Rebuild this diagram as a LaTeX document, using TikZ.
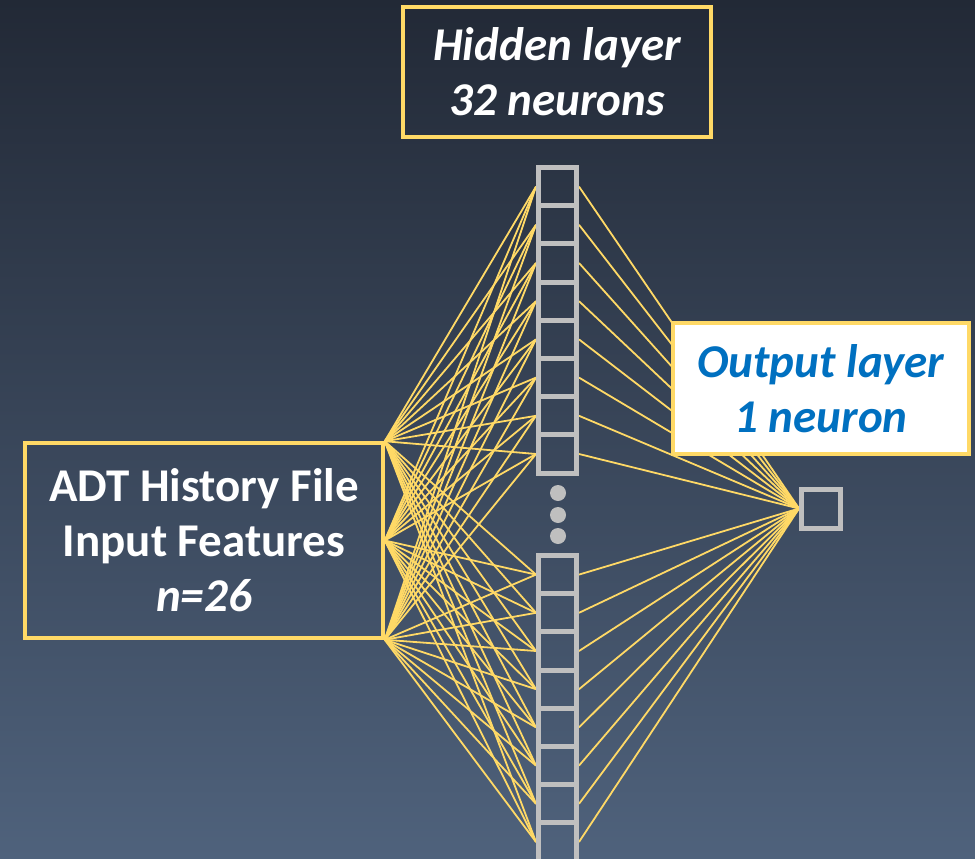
\documentclass[tikz,border=0pt]{standalone}
\usepackage{fontspec}
\setmainfont{Carlito}
\definecolor{bgtop}{HTML}{222936}
\definecolor{bgmid}{HTML}{394558}
\definecolor{bgbot}{HTML}{4F627C}
\definecolor{wire}{HTML}{FFD966}
\definecolor{cell}{HTML}{BFBFBF}
\definecolor{outblue}{HTML}{0070C0}
\pgfdeclarelayer{bg}
\pgfdeclarelayer{edges}
\pgfsetlayers{bg,edges,main}
\begin{document}
\begin{tikzpicture}[x=1pt,y=-1pt,
  labelbox/.style={draw=wire, line width=3.5pt, inner sep=0pt, align=center,
    font=\fontsize{47}{55}\selectfont\bfseries},
  neuron/.style={draw=cell, line width=5pt, minimum width=38pt, minimum height=38.2pt, inner sep=0pt},
  dotnode/.style={circle, fill=cell, minimum size=16pt, inner sep=0pt},
  wireline/.style={draw=wire, line width=1.8pt}]
\useasboundingbox (0,0) rectangle (975,859);
\clip (0,0) rectangle (975,859);
\begin{pgfonlayer}{bg}
  \shade[top color=bgtop, middle color=bgmid, bottom color=bgbot] (0,0) rectangle (975,859);
\end{pgfonlayer}

% input block
\node[labelbox, text=white, minimum width=358pt, minimum height=195pt] (in) at (204,540.5)
  {ADT History File\\Input Features\\\textit{n=26}};

% hidden layer: two columns of cells with an ellipsis between them
\foreach \i in {1,...,8}
  \node[neuron] (h\i) at (557.5,{186.6+(\i-1)*38.2}) {};
\foreach \i in {9,...,16}
  \node[neuron] (h\i) at (557.5,{574.6+(\i-9)*38.2}) {};
\node[dotnode] (d1) at (558,493) {};
\node[dotnode] (d2) at (558,515) {};
\node[dotnode] (d3) at (558,536) {};

% output neuron
\node[neuron, minimum width=39pt, minimum height=39pt] (out) at (821,508.5) {};

% connections
\begin{pgfonlayer}{edges}
  \foreach \i in {1,...,16} {
    \draw[wireline] (in.north east) -- (h\i.west);
    \draw[wireline] (in.east) -- (h\i.west);
    \draw[wireline] (in.south east) -- (h\i.west);
    \draw[wireline] (h\i.east) -- (out.west);
  }
\end{pgfonlayer}

% captions
\node[labelbox, text=white, minimum width=308pt, minimum height=130pt] (hidcap) at (557,72)
  {\itshape Hidden layer\\\itshape 32 neurons};
\node[labelbox, fill=white, text=outblue, minimum width=296pt, minimum height=131pt] (outcap) at (821,388.5)
  {\itshape Output layer\\\itshape 1 neuron};
\end{tikzpicture}
\end{document}
